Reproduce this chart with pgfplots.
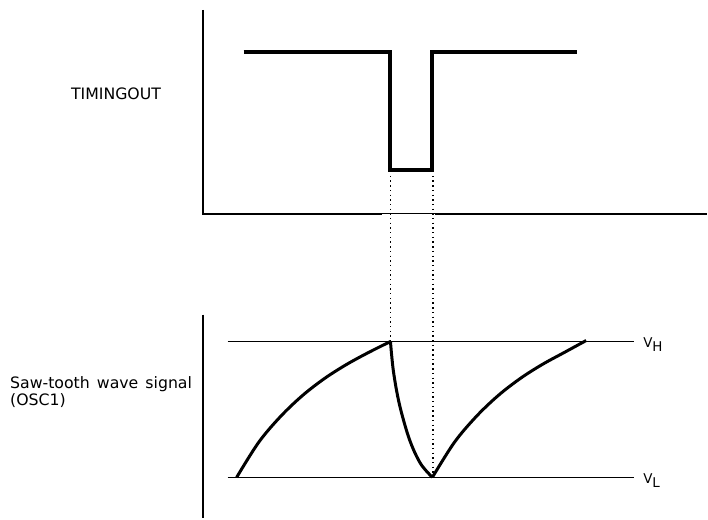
\documentclass[border=0pt]{standalone}
\usepackage{pgfplots}
\pgfplotsset{compat=1.18}
\usepackage{fontspec}
\setmainfont{DejaVu Sans}

\begin{document}
\begin{tikzpicture}
\begin{axis}[
  scale only axis,
  width=708bp, height=519bp,
  xmin=0, xmax=708, ymin=0, ymax=519,
  y dir=reverse,
  axis lines=none,
  ticks=none,
  clip=false,
]
% keep the full canvas as bounding box
\path (rel axis cs:0,0) rectangle (rel axis cs:1,1);
% frame lines of both panels
\addplot [black, line width=2bp] coordinates {(203,10) (203,214) (383,214)};
\addplot [black, line width=1bp] coordinates {(383,213.5) (436,213.5)};
\addplot [black, line width=2bp] coordinates {(436,214) (708,214)};
\addplot [black, line width=2bp] coordinates {(203,315) (203,519)};
% V_H and V_L levels
\addplot [black, line width=1.6bp] coordinates {(228,342) (635,342)};
\addplot [black, line width=1.6bp] coordinates {(228,478) (635,478)};
% dotted guides
\addplot [black, line width=1.4bp, dash pattern=on 1.4bp off 3.3bp] coordinates {(391,176) (391,342)};
\addplot [black, line width=1.4bp, dash pattern=on 1.4bp off 3.3bp] coordinates {(433.5,176) (433.5,478)};
% TIMINGOUT pulse
\addplot [black, line width=4bp, line join=miter] coordinates {
  (244,52) (391,52) (391,170.5) (433,170.5) (433,52) (578,52)};
% saw-tooth wave
\addplot [black, line width=3bp, smooth, tension=0.55] coordinates {
  (237,478) (259,443) (281,417) (303,396) (325,379)
  (347,365) (369,353) (391,342)};
\addplot [black, line width=3bp, smooth, tension=0.55] coordinates {
  (391,342) (394,372) (400,405) (410,440) (421,464) (433,478)};
\addplot [black, line width=3bp, smooth, tension=0.55] coordinates {
  (433,478) (455,443) (477,417) (499,396) (521,379)
  (543,365) (565,353) (587,341)};
% labels
\node [anchor=base west, inner sep=0pt, font=\fontsize{15.8}{17}\selectfont] at (axis cs:71,100) {TIMINGOUT};
\node [anchor=base west, inner sep=0pt, font=\fontsize{15.8}{17}\selectfont] at (axis cs:10,389.5) {Saw-tooth\hspace{0.45em}wave\hspace{0.45em}signal};
\node [anchor=base west, inner sep=0pt, font=\fontsize{15.8}{17}\selectfont] at (axis cs:10,406.5) {(OSC1)};
\node [anchor=base west, inner sep=0pt, font=\fontsize{13.5}{16}\selectfont] at (axis cs:644,347.5) {V\raisebox{-4bp}{H}};
\node [anchor=base west, inner sep=0pt, font=\fontsize{13.5}{16}\selectfont] at (axis cs:644,484) {V\raisebox{-4bp}{L}};
\end{axis}
\end{tikzpicture}
\end{document}
